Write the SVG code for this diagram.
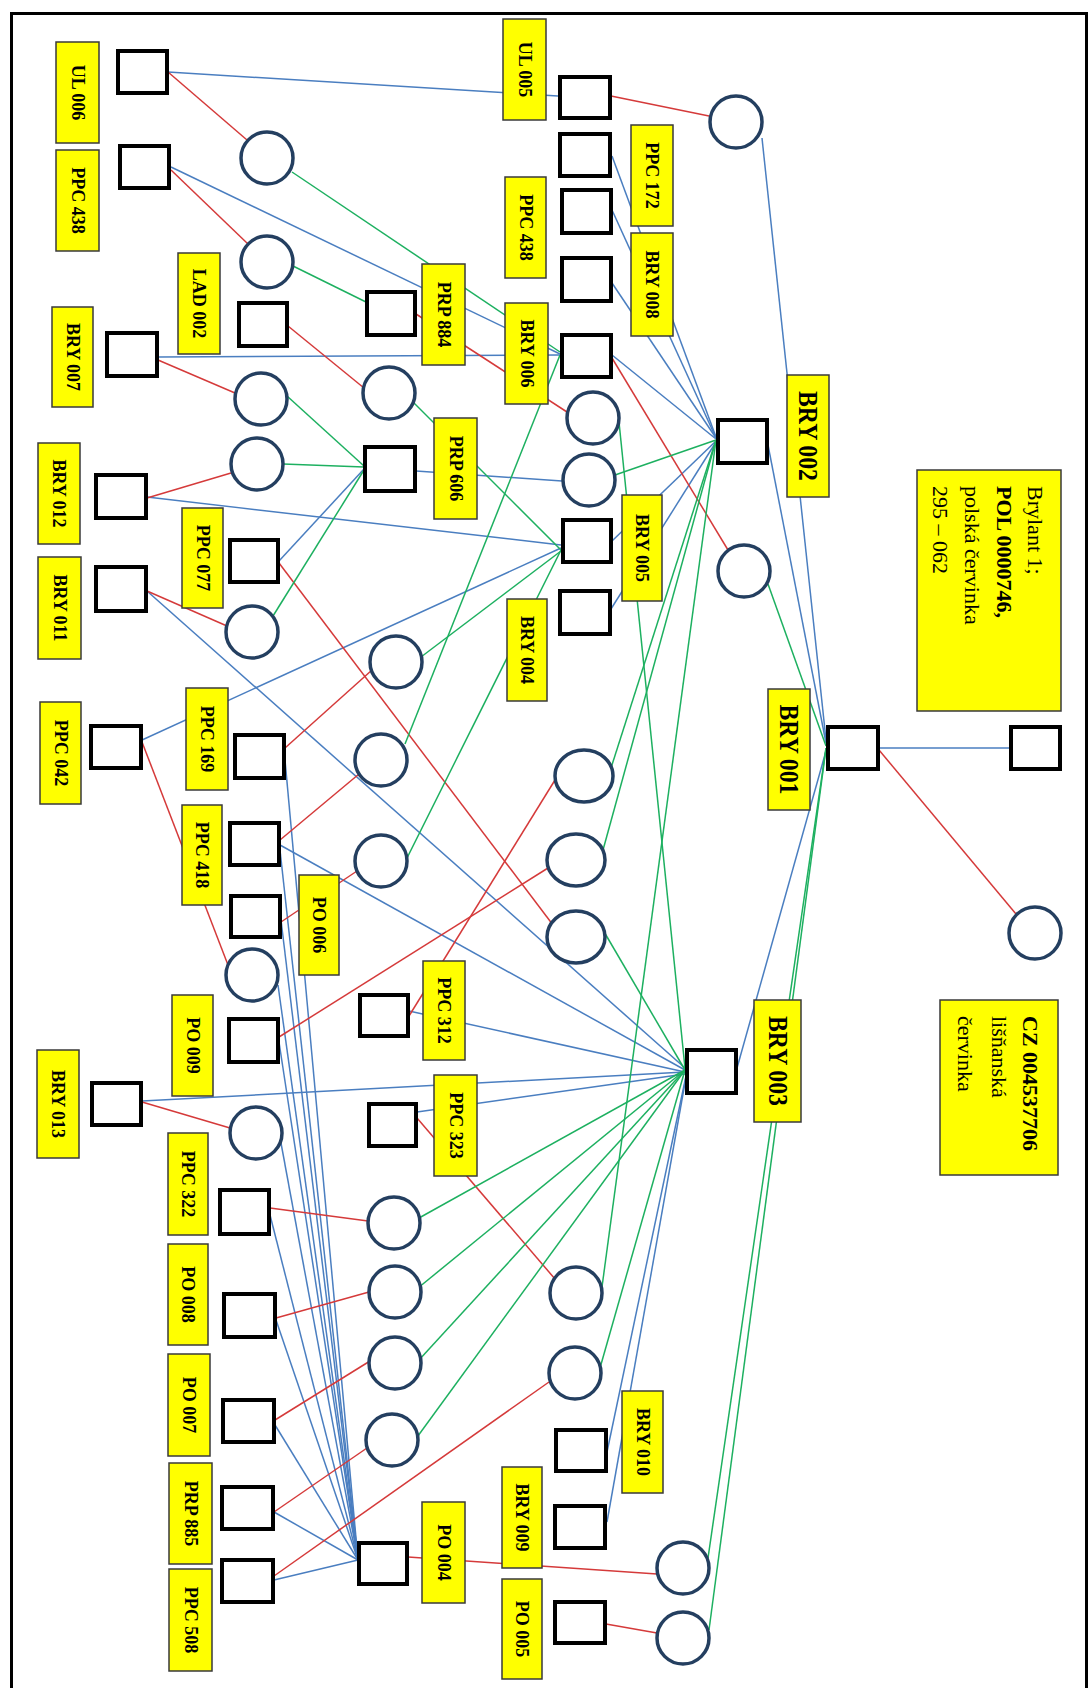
<svg xmlns="http://www.w3.org/2000/svg" width="1091" height="1688" viewBox="0 0 1091 1688">
<style>
.sq{fill:#fff;stroke:#000;stroke-width:4}
.ci{fill:#fff;stroke:#243F60;stroke-width:3.5}
.lb{fill:#FFFF00;stroke:#3a3a3a;stroke-width:1.5}
.t{font-family:"Liberation Serif",serif;font-weight:bold;font-size:18px;fill:#000;text-anchor:middle;dominant-baseline:central}
.tb{font-size:27px}
.tx{font-family:"Liberation Serif",serif;font-size:22px;fill:#000}
.bold{font-weight:bold}
.b{stroke:#4A7EC0;stroke-width:1.5;fill:none}
.r{stroke:#D53A3A;stroke-width:1.5;fill:none}
.g{stroke:#1DB060;stroke-width:1.5;fill:none}
</style>
<rect x="0" y="0" width="1091" height="1688" fill="#fff"/>
<rect x="11.5" y="13.5" width="1075" height="1700" fill="none" stroke="#000" stroke-width="3"/>
<g id="connectors">
<g class="b">
<line x1="168" y1="72" x2="558" y2="96"/>
<line x1="171" y1="167" x2="560" y2="354"/>
<line x1="158" y1="357" x2="560" y2="355"/>
<line x1="147" y1="497" x2="561" y2="545"/>
<line x1="147" y1="591" x2="685" y2="1068"/>
<line x1="142" y1="740" x2="561" y2="548"/>
<line x1="279" y1="561" x2="364" y2="469"/>
<line x1="416" y1="471" x2="562" y2="481"/>
<line x1="612" y1="156" x2="716" y2="437"/>
<line x1="612" y1="210" x2="716" y2="438"/>
<line x1="612" y1="283" x2="716" y2="438"/>
<line x1="612" y1="355" x2="716" y2="439"/>
<line x1="612" y1="541" x2="716" y2="441"/>
<line x1="611" y1="609" x2="716" y2="442"/>
<line x1="762" y1="138" x2="826" y2="740"/>
<line x1="768" y1="445" x2="826" y2="743"/>
<line x1="737" y1="1068" x2="826" y2="751"/>
<line x1="879" y1="748" x2="1010" y2="748"/>
<line x1="280" y1="845" x2="685" y2="1070"/>
<line x1="409" y1="1011" x2="685" y2="1072"/>
<line x1="142" y1="1101" x2="685" y2="1072"/>
<line x1="417" y1="1112" x2="685" y2="1074"/>
<line x1="686" y1="1076" x2="607" y2="1452"/>
<line x1="686" y1="1077" x2="607" y2="1522"/>
<line x1="285" y1="760" x2="358" y2="1560"/>
<line x1="280" y1="850" x2="358" y2="1560"/>
<line x1="281" y1="920" x2="358" y2="1560"/>
<line x1="278" y1="985" x2="358" y2="1560"/>
<line x1="279" y1="1042" x2="358" y2="1560"/>
<line x1="281" y1="1143" x2="358" y2="1560"/>
<line x1="270" y1="1215" x2="358" y2="1560"/>
<line x1="276" y1="1320" x2="358" y2="1560"/>
<line x1="275" y1="1425" x2="358" y2="1560"/>
<line x1="274" y1="1512" x2="358" y2="1560"/>
<line x1="274" y1="1580" x2="358" y2="1560"/>
</g>
<g class="r">
<line x1="168" y1="72" x2="247" y2="140"/>
<line x1="171" y1="170" x2="248" y2="244"/>
<line x1="288" y1="326" x2="364" y2="388"/>
<line x1="158" y1="360" x2="235" y2="393"/>
<line x1="147" y1="498" x2="231" y2="473"/>
<line x1="147" y1="591" x2="227" y2="626"/>
<line x1="416" y1="314" x2="567" y2="412"/>
<line x1="611" y1="96" x2="709" y2="116"/>
<line x1="612" y1="358" x2="728" y2="550"/>
<line x1="279" y1="563" x2="553" y2="925"/>
<line x1="285" y1="748" x2="372" y2="670"/>
<line x1="280" y1="840" x2="359" y2="774"/>
<line x1="281" y1="922" x2="357" y2="871"/>
<line x1="142" y1="742" x2="228" y2="965"/>
<line x1="279" y1="1037" x2="548" y2="868"/>
<line x1="409" y1="1016" x2="555" y2="780"/>
<line x1="142" y1="1102" x2="230" y2="1128"/>
<line x1="270" y1="1208" x2="368" y2="1221"/>
<line x1="276" y1="1318" x2="369" y2="1292"/>
<line x1="275" y1="1420" x2="370" y2="1361"/>
<line x1="274" y1="1512" x2="367" y2="1448"/>
<line x1="274" y1="1576" x2="549" y2="1382"/>
<line x1="417" y1="1118" x2="555" y2="1279"/>
<line x1="408" y1="1557" x2="657" y2="1574"/>
<line x1="606" y1="1624" x2="657" y2="1633"/>
<line x1="879" y1="750" x2="1016" y2="914"/>
</g>
<g class="g">
<line x1="292" y1="172" x2="560" y2="352"/>
<line x1="293" y1="266" x2="366" y2="302"/>
<line x1="287" y1="396" x2="364" y2="466"/>
<line x1="283" y1="464" x2="364" y2="467"/>
<line x1="273" y1="616" x2="364" y2="470"/>
<line x1="413" y1="402" x2="561" y2="550"/>
<line x1="421" y1="657" x2="561" y2="551"/>
<line x1="407" y1="858" x2="561" y2="550"/>
<line x1="405" y1="744" x2="560" y2="355"/>
<line x1="615" y1="475" x2="716" y2="440"/>
<line x1="619" y1="422" x2="685" y2="1068"/>
<line x1="768" y1="584" x2="826" y2="746"/>
<line x1="716" y1="440" x2="611" y2="768"/>
<line x1="716" y1="440" x2="603" y2="850"/>
<line x1="716" y1="440" x2="602" y2="1287"/>
<line x1="603" y1="930" x2="685" y2="1070"/>
<line x1="685" y1="1070" x2="419" y2="1218"/>
<line x1="685" y1="1070" x2="418" y2="1288"/>
<line x1="685" y1="1070" x2="419" y2="1360"/>
<line x1="685" y1="1070" x2="415" y2="1440"/>
<line x1="685" y1="1070" x2="600" y2="1368"/>
<line x1="826" y1="748" x2="708" y2="1558"/>
<line x1="826" y1="748" x2="709" y2="1630"/>
</g>
</g>
<g id="nodes">
<g id="ul006"><rect class="sq" x="118" y="51" width="49" height="42"/><rect class="lb" x="56" y="42" width="43" height="101"/><text class="t" transform="translate(77.5,92.5) rotate(90)">UL 006</text></g>
<g id="ppc438a"><rect class="sq" x="120" y="146" width="49" height="42"/><rect class="lb" x="56" y="150" width="43" height="101"/><text class="t" transform="translate(77.5,200.5) rotate(90)">PPC 438</text></g>
<g id="lad002"><rect class="sq" x="239" y="303" width="48" height="43"/><rect class="lb" x="178" y="253" width="42" height="101"/><text class="t" transform="translate(199,303.5) rotate(90)">LAD 002</text></g>
<g id="bry007"><rect class="sq" x="107" y="333" width="50" height="43"/><rect class="lb" x="52" y="307" width="41" height="100"/><text class="t" transform="translate(72.5,357) rotate(90)">BRY 007</text></g>
<g id="bry012"><rect class="sq" x="96" y="475" width="50" height="43"/><rect class="lb" x="38" y="443" width="42" height="101"/><text class="t" transform="translate(59,493.5) rotate(90)">BRY 012</text></g>
<g id="ppc077"><rect class="sq" x="230" y="540" width="48" height="42"/><rect class="lb" x="182" y="508" width="41" height="100"/><text class="t" transform="translate(202.5,558) rotate(90)">PPC 077</text></g>
<g id="bry011"><rect class="sq" x="96" y="567" width="50" height="44"/><rect class="lb" x="38" y="557" width="43" height="102"/><text class="t" transform="translate(59.5,608) rotate(90)">BRY 011</text></g>
<g id="ppc042"><rect class="sq" x="91" y="726" width="50" height="42"/><rect class="lb" x="40" y="702" width="41" height="102"/><text class="t" transform="translate(60.5,753) rotate(90)">PPC 042</text></g>
<g id="ppc169"><rect class="sq" x="235" y="735" width="49" height="43"/><rect class="lb" x="186" y="688" width="42" height="102"/><text class="t" transform="translate(207,739) rotate(90)">PPC 169</text></g>
<g id="ppc418"><rect class="sq" x="230" y="823" width="49" height="42"/><rect class="lb" x="182" y="805" width="40" height="100"/><text class="t" transform="translate(202,855) rotate(90)">PPC 418</text></g>
<g id="po006"><rect class="sq" x="231" y="896" width="49" height="41"/><rect class="lb" x="299" y="875" width="40" height="100"/><text class="t" transform="translate(319,925) rotate(90)">PO 006</text></g>
<g id="po009"><rect class="sq" x="229" y="1019" width="49" height="43"/><rect class="lb" x="172" y="995" width="41" height="101"/><text class="t" transform="translate(192.5,1045.5) rotate(90)">PO 009</text></g>
<g id="bry013"><rect class="sq" x="92" y="1083" width="49" height="42"/><rect class="lb" x="37" y="1050" width="42" height="108"/><text class="t" transform="translate(58,1104) rotate(90)">BRY 013</text></g>
<g id="ppc322"><rect class="sq" x="220" y="1190" width="49" height="44"/><rect class="lb" x="168" y="1133" width="40" height="102"/><text class="t" transform="translate(188,1184) rotate(90)">PPC 322</text></g>
<g id="po008"><rect class="sq" x="224" y="1294" width="51" height="43"/><rect class="lb" x="168" y="1244" width="40" height="101"/><text class="t" transform="translate(188,1294.5) rotate(90)">PO 008</text></g>
<g id="po007"><rect class="sq" x="223" y="1400" width="51" height="42"/><rect class="lb" x="168" y="1354" width="42" height="102"/><text class="t" transform="translate(189,1405) rotate(90)">PO 007</text></g>
<g id="prp885"><rect class="sq" x="222" y="1487" width="51" height="42"/><rect class="lb" x="169" y="1463" width="43" height="101"/><text class="t" transform="translate(190.5,1513.5) rotate(90)">PRP 885</text></g>
<g id="ppc508"><rect class="sq" x="222" y="1560" width="51" height="42"/><rect class="lb" x="169" y="1569" width="43" height="102"/><text class="t" transform="translate(190.5,1620) rotate(90)">PPC 508</text></g>
<g id="prp884"><rect class="sq" x="367" y="292" width="48" height="43"/><rect class="lb" x="422" y="264" width="43" height="101"/><text class="t" transform="translate(443.5,314.5) rotate(90)">PRP 884</text></g>
<g id="prp606"><rect class="sq" x="365" y="447" width="50" height="44"/><rect class="lb" x="434" y="418" width="43" height="101"/><text class="t" transform="translate(455.5,468.5) rotate(90)">PRP 606</text></g>
<g id="ppc312"><rect class="sq" x="360" y="995" width="48" height="41"/><rect class="lb" x="423" y="961" width="42" height="99"/><text class="t" transform="translate(444,1010.5) rotate(90)">PPC 312</text></g>
<g id="ppc323"><rect class="sq" x="369" y="1104" width="47" height="42"/><rect class="lb" x="434" y="1075" width="43" height="101"/><text class="t" transform="translate(455.5,1125.5) rotate(90)">PPC 323</text></g>
<g id="po004"><rect class="sq" x="359" y="1543" width="48" height="41"/><rect class="lb" x="422" y="1502" width="43" height="101"/><text class="t" transform="translate(443.5,1552.5) rotate(90)">PO 004</text></g>
<g id="ul005"><rect class="sq" x="560" y="77" width="50" height="41"/><rect class="lb" x="503" y="19" width="43" height="101"/><text class="t" transform="translate(524.5,69.5) rotate(90)">UL 005</text></g>
<g id="ppc172"><rect class="sq" x="560" y="134" width="50" height="42"/><rect class="lb" x="631" y="125" width="42" height="101"/><text class="t" transform="translate(652,175.5) rotate(90)">PPC 172</text></g>
<g id="ppc438b"><rect class="sq" x="562" y="190" width="49" height="43"/><rect class="lb" x="505" y="177" width="41" height="101"/><text class="t" transform="translate(525.5,227.5) rotate(90)">PPC 438</text></g>
<g id="bry008"><rect class="sq" x="562" y="258" width="49" height="43"/><rect class="lb" x="631" y="233" width="42" height="103"/><text class="t" transform="translate(652,284.5) rotate(90)">BRY 008</text></g>
<g id="bry006"><rect class="sq" x="562" y="335" width="49" height="42"/><rect class="lb" x="505" y="303" width="43" height="101"/><text class="t" transform="translate(526.5,353.5) rotate(90)">BRY 006</text></g>
<g id="bry005"><rect class="sq" x="563" y="520" width="48" height="42"/><rect class="lb" x="622" y="495" width="40" height="106"/><text class="t" transform="translate(642,548) rotate(90)">BRY 005</text></g>
<g id="bry004"><rect class="sq" x="560" y="591" width="50" height="43"/><rect class="lb" x="507" y="599" width="40" height="102"/><text class="t" transform="translate(527,650) rotate(90)">BRY 004</text></g>
<g id="bry010"><rect class="sq" x="556" y="1430" width="50" height="41"/><rect class="lb" x="622" y="1391" width="41" height="102"/><text class="t" transform="translate(642.5,1442) rotate(90)">BRY 010</text></g>
<g id="bry009"><rect class="sq" x="555" y="1506" width="50" height="42"/><rect class="lb" x="502" y="1467" width="40" height="101"/><text class="t" transform="translate(522,1517.5) rotate(90)">BRY 009</text></g>
<g id="po005"><rect class="sq" x="555" y="1602" width="50" height="41"/><rect class="lb" x="502" y="1579" width="40" height="100"/><text class="t" transform="translate(522,1629) rotate(90)">PO 005</text></g>
<g id="bry002"><rect class="sq" x="718" y="420" width="49" height="43"/><rect class="lb" x="787" y="375" width="42" height="122"/><text class="t tb" textLength="90" lengthAdjust="spacingAndGlyphs" transform="translate(808,436) rotate(90)">BRY 002</text></g>
<g id="bry003"><rect class="sq" x="687" y="1050" width="49" height="43"/><rect class="lb" x="754" y="1000" width="47" height="122"/><text class="t tb" textLength="90" lengthAdjust="spacingAndGlyphs" transform="translate(777.5,1061) rotate(90)">BRY 003</text></g>
<g id="bry001"><rect class="sq" x="828" y="727" width="50" height="42"/><rect class="lb" x="768" y="689" width="42" height="121"/><text class="t tb" textLength="90" lengthAdjust="spacingAndGlyphs" transform="translate(789,749.5) rotate(90)">BRY 001</text></g>
<g id="pol0000746"><rect class="sq" x="1011" y="727" width="49" height="42"/><rect class="lb" x="917" y="470" width="144" height="241"/><g transform="translate(1061,470) rotate(90)"><text class="tx" x="16" y="33">Brylant 1;</text><text class="tx bold" x="16" y="64">POL 0000746,</text><text class="tx" x="16" y="96">polská červinka</text><text class="tx" x="16" y="128">295 – 062</text></g></g>
<g id="cz004537706"><circle class="ci" cx="1035" cy="933" r="26"/><rect class="lb" x="940" y="1000" width="118" height="175"/><g transform="translate(1058,1000) rotate(90)"><text class="tx bold" x="16" y="35">CZ 004537706</text><text class="tx" x="16" y="66">lišňanská</text><text class="tx" x="16" y="100">červinka</text></g></g>
<g id="c1"><circle class="ci" cx="267" cy="158" r="26"/></g>
<g id="c2"><circle class="ci" cx="267" cy="262" r="26"/></g>
<g id="c3"><circle class="ci" cx="261" cy="399" r="26"/></g>
<g id="c4"><circle class="ci" cx="257" cy="464" r="26"/></g>
<g id="c5"><circle class="ci" cx="389" cy="393" r="26"/></g>
<g id="c6"><circle class="ci" cx="736" cy="122" r="26"/></g>
<g id="c7"><circle class="ci" cx="593" cy="418" r="26"/></g>
<g id="c8"><circle class="ci" cx="589" cy="480" r="26"/></g>
<g id="c9"><circle class="ci" cx="252" cy="632" r="26"/></g>
<g id="c10"><circle class="ci" cx="252" cy="975" r="26"/></g>
<g id="c11"><circle class="ci" cx="396" cy="662" r="26"/></g>
<g id="c12"><circle class="ci" cx="381" cy="760" r="26"/></g>
<g id="c13"><circle class="ci" cx="381" cy="861" r="26"/></g>
<g id="c14"><ellipse class="ci" cx="584" cy="776" rx="29" ry="26"/></g>
<g id="c15"><ellipse class="ci" cx="576" cy="860" rx="29" ry="26"/></g>
<g id="c16"><ellipse class="ci" cx="576" cy="937" rx="29" ry="26"/></g>
<g id="c17"><circle class="ci" cx="744" cy="571" r="26"/></g>
<g id="c18"><circle class="ci" cx="256" cy="1133" r="26"/></g>
<g id="c19"><circle class="ci" cx="394" cy="1223" r="26"/></g>
<g id="c20"><circle class="ci" cx="395" cy="1292" r="26"/></g>
<g id="c21"><circle class="ci" cx="395" cy="1363" r="26"/></g>
<g id="c22"><circle class="ci" cx="392" cy="1440" r="26"/></g>
<g id="c23"><circle class="ci" cx="576" cy="1293" r="26"/></g>
<g id="c24"><circle class="ci" cx="575" cy="1373" r="26"/></g>
<g id="c25"><circle class="ci" cx="683" cy="1568" r="26"/></g>
<g id="c26"><circle class="ci" cx="683" cy="1638" r="26"/></g>
</g>
</svg>
